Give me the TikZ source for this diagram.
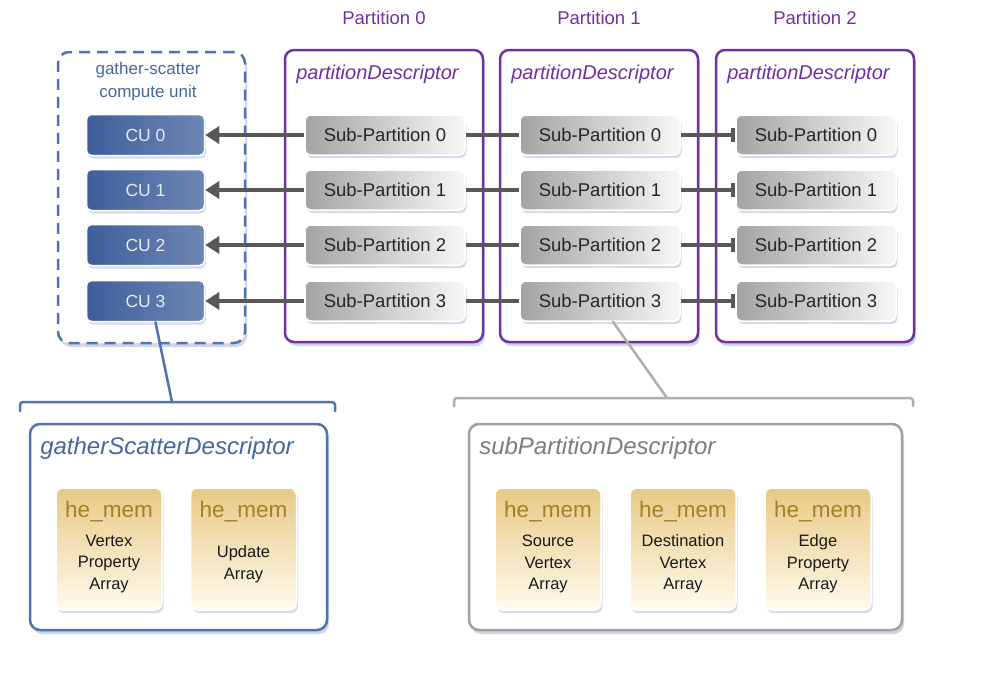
\documentclass[tikz,border=0pt]{standalone}
\usepackage{fontspec}
\setmainfont{Liberation Sans}
\usetikzlibrary{arrows.meta,shadows}
\definecolor{partpurple}{RGB}{112,48,160}
\definecolor{gsblue}{RGB}{79,114,178}
\definecolor{cublue}{RGB}{62,94,155}
\definecolor{linkgray}{RGB}{88,88,88}
\definecolor{descgray}{RGB}{160,160,160}
\definecolor{desctext}{RGB}{125,125,125}
\definecolor{memgold}{RGB}{166,128,40}
\definecolor{memtop}{RGB}{231,201,132}
\definecolor{membot}{RGB}{255,251,238}
\definecolor{shadowblue}{RGB}{150,165,198}
\tikzset{
  softshadow/.style={drop shadow={shadow xshift=2pt,shadow yshift=-4pt,fill=shadowblue,opacity=.45}},
  smallshadow/.style={drop shadow={shadow xshift=1.5pt,shadow yshift=-3pt,fill=shadowblue,opacity=.4}},
  parttitle/.style={text=partpurple,font=\fontsize{18.5}{20}\selectfont},
  partbox/.style={draw=partpurple,line width=2.5pt,rounded corners=9pt,fill=white,softshadow,
    minimum width=198pt,minimum height=292pt},
  partdesc/.style={text=partpurple,font=\fontsize{20}{22}\selectfont\itshape,anchor=west},
  subpart/.style={draw=white,line width=1.5pt,rounded corners=6pt,left color=black!36,right color=black!3,
    smallshadow,minimum width=160pt,minimum height=40pt,font=\fontsize{18.5}{20}\selectfont,text=black!85},
  cubox/.style={draw=gsblue,line width=2.5pt,dash pattern=on 11pt off 7pt,rounded corners=11pt,fill=white,
    softshadow,minimum width=187pt,minimum height=291pt},
  cutitle/.style={text=gsblue!90!black,align=center,font=\fontsize{17}{23}\selectfont},
  cunode/.style={draw=white,line width=1.5pt,rounded corners=5pt,left color=cublue,right color=cublue!75!white,
    smallshadow,minimum width=118pt,minimum height=41pt,text=white!88!cublue,font=\fontsize{17.5}{20}\selectfont},
  link/.style={draw=linkgray,line width=3.5pt},
  gsline/.style={draw=gsblue,line width=2.5pt,line cap=round},
  spline/.style={draw=descgray!85!white,line width=2.5pt,line cap=round},
  gsdesc/.style={draw=gsblue,line width=2.5pt,rounded corners=10pt,fill=white,softshadow,
    minimum width=297pt,minimum height=206pt},
  spdesc/.style={draw=descgray,line width=2.5pt,rounded corners=10pt,fill=white,softshadow,
    minimum width=433pt,minimum height=206pt},
  gstitle/.style={text=gsblue!90!black,font=\fontsize{24}{26}\selectfont\itshape,anchor=west},
  sptitle/.style={text=desctext,font=\fontsize{24}{26}\selectfont\itshape,anchor=west},
  memcell/.style={draw=white,line width=1.5pt,rounded corners=7pt,top color=memtop,bottom color=membot,
    smallshadow,minimum width=106pt,minimum height=122pt},
  memhead/.style={text=memgold,font=\fontsize{22.5}{24}\selectfont},
  memtext/.style={align=center,font=\fontsize{16.5}{21.5}\selectfont,text=black!90}
}
\begin{document}
\begin{tikzpicture}[x=1pt,y=-1pt]
\useasboundingbox (0,0) rectangle (988,681);

% partitions with their sub-partitions
\foreach \p/\x in {0/384,1/599,2/815}{
  \node[parttitle] (pt\p) at (\x,18) {Partition \p};
  \node[partbox] (p\p) at (\x,196) {};
  \node[partdesc] (pd\p) at ([shift={(9,26)}]p\p.north west) {partitionDescriptor};
}
\foreach \p/\x in {0/385,1/600,2/816}
  \foreach \i/\y in {0/135,1/190,2/245,3/301}
    \node[subpart] (sp\p-\i) at (\x,\y) {Sub-Partition \i};

% compute units
\node[cubox] (cuframe) at (151.5,197.5) {};
\node[cutitle] (cutitle) at (148,82) {gather-scatter\\compute unit};
\foreach \i/\y in {0/135,1/190,2/245,3/301}
  \node[cunode] (cu\i) at (145.5,\y) {CU \i};

\foreach \i in {0,...,3}{
  \draw[link,-{Triangle[length=14pt,width=17pt]}] (sp0-\i) -- (cu\i);
  \draw[link] (sp0-\i) -- (sp1-\i);
  \draw[link,-{Bar[width=14pt,line width=4pt]}] (sp1-\i) -- (sp2-\i);
}

% descriptors
\coordinate (gsbrace) at (172,402);
\coordinate (spbrace) at (667,398);
\draw[gsline,rounded corners=3pt] (20,411) -- (20,402) -- (335,402) -- (335,411);
\draw[gsline] ([xshift=10pt]cu3.south) -- (gsbrace);
\draw[spline,rounded corners=3pt] (454,406) -- (454,398) -- (913,398) -- (913,406);
\draw[spline] ([xshift=13pt]sp1-3.south) -- (spbrace);

\node[gsdesc] (gsd) at (178.5,527) {};
\node[gstitle] (gst) at ([shift={(8,26)}]gsd.north west) {gatherScatterDescriptor};
\node[spdesc] (spd) at (685.5,527) {};
\node[sptitle] (spt) at ([shift={(8,26)}]spd.north west) {subPartitionDescriptor};

\foreach \n/\x/\txt in {gm0/109/{Vertex\\Property\\Array},gm1/243.5/{Update\\Array},
    sm0/548/{Source\\Vertex\\Array},sm1/683/{Destination\\Vertex\\Array},sm2/818/{Edge\\Property\\Array}}{
  \node[memcell] (\n) at (\x,549) {};
  \node[memhead] (\n-head) at ([yshift=37pt]\n.center) {he\_mem};
  \node[memtext] (\n-text) at ([yshift=-15pt]\n.center) {\txt};
}
\end{tikzpicture}
\end{document}
